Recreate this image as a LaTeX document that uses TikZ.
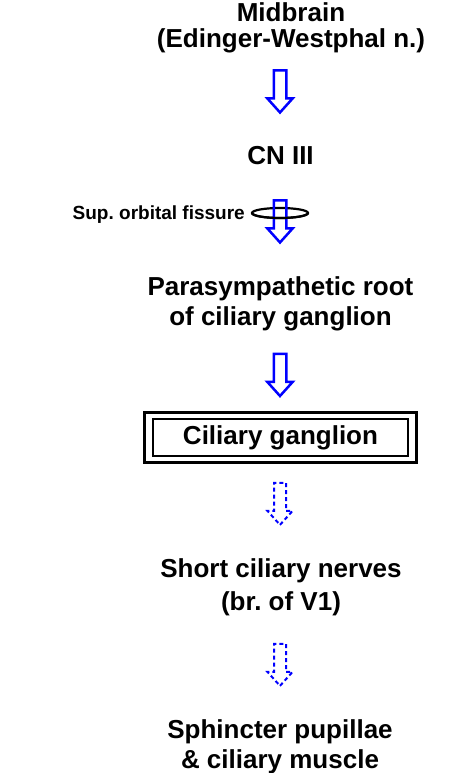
\documentclass[tikz,border=0pt]{standalone}
\usepackage{fontspec}
\setmainfont{Liberation Sans}
\frenchspacing
\usetikzlibrary{shapes.arrows,calc}

\begin{document}
\begin{tikzpicture}[x=1pt,y=-1pt,
    txt/.style={font=\bfseries\fontsize{26}{30}\selectfont, align=center, inner sep=0pt, anchor=base},
    hollow/.style={single arrow, draw=blue, line width=2.5pt, rotate=-90, inner xsep=0pt, inner ysep=5pt,
        minimum height=42pt, single arrow head extend=6.5pt, single arrow tip angle=84},
    dashedhollow/.style={hollow, line width=2pt, dash pattern=on 4pt off 3pt}]
       \tikzstyle{ring}=[draw=black, line width=2.2pt]

       \useasboundingbox (0,0) rectangle (474,773);

       \node[txt, font=\bfseries\fontsize{26}{26}\selectfont] (midbrain) at (291,48) {Midbrain\\(Edinger-Westphal n.)};
       \node[txt] (cn3) at (280.5,164) {CN III};
       \node[txt, font=\bfseries\fontsize{19}{22}\selectfont, anchor=base east] (sof) at (245,219) {Sup. orbital fissure};
       \node[txt] (root) at (280.5,325) {Parasympathetic root\\of ciliary ganglion};
       \node[txt, anchor=center, draw, line width=2pt, minimum width=255pt, minimum height=37pt]
            (cg) at (280.5,437.5) {Ciliary ganglion};
       \node[txt, font=\bfseries\fontsize{26}{33}\selectfont] (short) at (281,610) {Short ciliary nerves\\(br. of V1)};
       \node[txt] (muscle) at (280,768) {Sphincter pupillae\\\& ciliary muscle};

       \draw[line width=3pt] ($(cg.north west)+(-7.5,-5.5)$) rectangle ($(cg.south east)+(7.5,5.5)$);

       \draw[ring] (280,213) ellipse [x radius=28, y radius=5];
       \node[hollow] (a1) at (280,88) {};
       \node[hollow] (a2) at (280,218) {};
       \draw[ring] (252,213) arc[start angle=180, end angle=360, x radius=28, y radius=-5];
       \node[hollow] (a3) at (280,371.5) {};
       \node[dashedhollow] (a4) at (280,500.5) {};
       \node[dashedhollow] (a5) at (280,661.5) {};
     \end{tikzpicture}
\end{document}
